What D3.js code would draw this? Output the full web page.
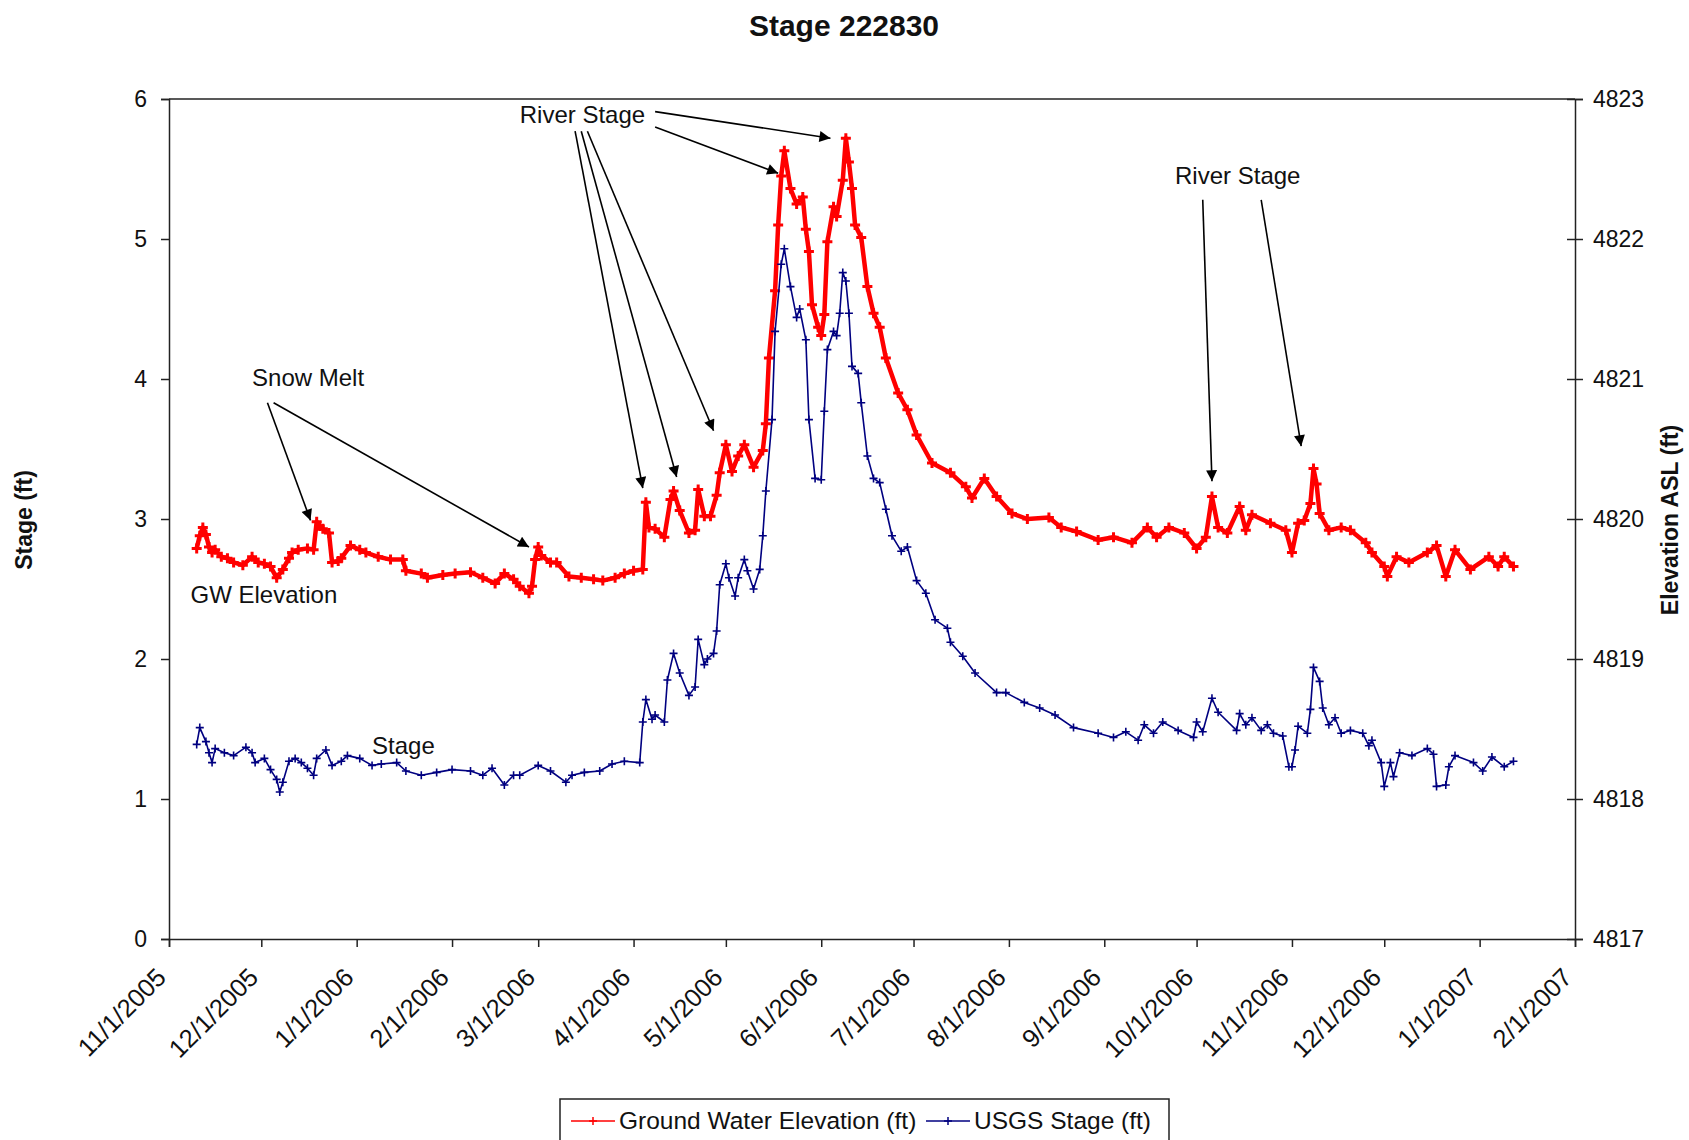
<!DOCTYPE html>
<meta charset="utf-8">
<script src="https://d3js.org/d3.v7.min.js"></script>
<style>
  body { margin: 0; background: #fff; }
  text { font-family: "Liberation Sans", Arial, sans-serif; fill: #111; }
</style>
<div id="chart"></div>
<script>

// ground water elevation (ft, left axis)
const gwData = [
  ["2005-11-10",2.79],["2005-11-11",2.88],["2005-11-12",2.94],["2005-11-13",2.89],["2005-11-14",2.80],
  ["2005-11-15",2.76],["2005-11-16",2.78],["2005-11-18",2.73],["2005-11-20",2.72],["2005-11-22",2.69],
  ["2005-11-25",2.67],["2005-11-28",2.73],["2005-11-30",2.69],["2005-12-02",2.68],["2005-12-04",2.66],
  ["2005-12-06",2.58],["2005-12-08",2.64],["2005-12-10",2.72],["2005-12-11",2.76],["2005-12-13",2.78],
  ["2005-12-16",2.79],["2005-12-18",2.78],["2005-12-19",2.98],["2005-12-20",2.95],["2005-12-21",2.93],
  ["2005-12-23",2.90],["2005-12-24",2.69],["2005-12-26",2.70],["2005-12-27",2.72],["2005-12-30",2.81],
  ["2006-01-02",2.78],["2006-01-04",2.76],["2006-01-08",2.73],["2006-01-12",2.71],["2006-01-16",2.71],
  ["2006-01-17",2.63],["2006-01-22",2.61],["2006-01-24",2.58],["2006-01-29",2.60],["2006-02-02",2.61],
  ["2006-02-07",2.62],["2006-02-11",2.58],["2006-02-15",2.54],["2006-02-18",2.61],["2006-02-21",2.57],
  ["2006-02-23",2.52],["2006-02-26",2.47],["2006-02-27",2.52],["2006-02-28",2.71],["2006-03-01",2.80],
  ["2006-03-02",2.74],["2006-03-05",2.69],["2006-03-07",2.69],["2006-03-11",2.59],["2006-03-15",2.58],
  ["2006-03-19",2.57],["2006-03-22",2.56],["2006-03-26",2.58],["2006-03-29",2.61],["2006-04-01",2.63],
  ["2006-04-04",2.64],["2006-04-05",3.12],["2006-04-06",2.94],["2006-04-08",2.93],["2006-04-11",2.87],
  ["2006-04-13",3.14],["2006-04-14",3.20],["2006-04-16",3.06],["2006-04-19",2.90],["2006-04-21",2.92],
  ["2006-04-22",3.21],["2006-04-24",3.02],["2006-04-26",3.02],["2006-04-28",3.17],["2006-04-29",3.33],
  ["2006-05-01",3.53],["2006-05-03",3.34],["2006-05-05",3.45],["2006-05-07",3.53],["2006-05-10",3.37],
  ["2006-05-13",3.49],["2006-05-14",3.68],["2006-05-15",4.15],["2006-05-17",4.63],["2006-05-18",5.10],
  ["2006-05-19",5.45],["2006-05-20",5.63],["2006-05-22",5.36],["2006-05-24",5.25],["2006-05-26",5.30],
  ["2006-05-27",5.07],["2006-05-28",4.91],["2006-05-29",4.53],["2006-05-31",4.37],["2006-06-01",4.31],
  ["2006-06-02",4.46],["2006-06-03",4.98],["2006-06-05",5.23],["2006-06-06",5.16],["2006-06-08",5.42],
  ["2006-06-09",5.72],["2006-06-10",5.55],["2006-06-11",5.36],["2006-06-12",5.10],["2006-06-14",5.01],
  ["2006-06-16",4.66],["2006-06-18",4.47],["2006-06-20",4.37],["2006-06-22",4.15],["2006-06-26",3.90],
  ["2006-06-29",3.78],["2006-07-02",3.60],["2006-07-07",3.40],["2006-07-13",3.33],["2006-07-18",3.23],
  ["2006-07-20",3.15],["2006-07-24",3.29],["2006-07-28",3.16],["2006-08-02",3.04],["2006-08-07",3.00],
  ["2006-08-14",3.01],["2006-08-18",2.94],["2006-08-23",2.91],["2006-08-30",2.85],["2006-09-04",2.87],
  ["2006-09-10",2.83],["2006-09-15",2.94],["2006-09-18",2.87],["2006-09-22",2.94],["2006-09-27",2.90],
  ["2006-10-01",2.79],["2006-10-04",2.87],["2006-10-06",3.16],["2006-10-08",2.94],["2006-10-11",2.90],
  ["2006-10-15",3.09],["2006-10-17",2.92],["2006-10-19",3.03],["2006-10-25",2.97],["2006-10-30",2.92],
  ["2006-11-01",2.76],["2006-11-03",2.97],["2006-11-05",2.99],["2006-11-07",3.11],["2006-11-08",3.36],
  ["2006-11-09",3.25],["2006-11-10",3.04],["2006-11-13",2.92],["2006-11-17",2.94],["2006-11-20",2.92],
  ["2006-11-25",2.83],["2006-11-27",2.76],["2006-12-01",2.66],["2006-12-02",2.59],["2006-12-05",2.73],
  ["2006-12-09",2.69],["2006-12-15",2.76],["2006-12-18",2.81],["2006-12-21",2.59],["2006-12-24",2.78],
  ["2006-12-29",2.64],["2007-01-04",2.73],["2007-01-07",2.66],["2007-01-09",2.73],["2007-01-12",2.66]
];

// USGS river stage (ft, left axis)
const stageData = [
  ["2005-11-10",1.39],["2005-11-11",1.51],["2005-11-13",1.41],["2005-11-14",1.33],["2005-11-15",1.26],
  ["2005-11-16",1.36],["2005-11-19",1.33],["2005-11-22",1.31],["2005-11-26",1.37],["2005-11-28",1.33],
  ["2005-11-29",1.26],["2005-12-02",1.29],["2005-12-04",1.21],["2005-12-06",1.14],["2005-12-07",1.05],
  ["2005-12-08",1.12],["2005-12-10",1.27],["2005-12-12",1.29],["2005-12-14",1.26],["2005-12-16",1.22],
  ["2005-12-18",1.17],["2005-12-19",1.29],["2005-12-22",1.35],["2005-12-24",1.24],["2005-12-27",1.27],
  ["2005-12-29",1.31],["2006-01-02",1.29],["2006-01-06",1.24],["2006-01-09",1.25],["2006-01-14",1.26],
  ["2006-01-17",1.20],["2006-01-22",1.17],["2006-01-27",1.19],["2006-02-01",1.21],["2006-02-07",1.20],
  ["2006-02-11",1.17],["2006-02-14",1.22],["2006-02-18",1.10],["2006-02-21",1.17],["2006-02-23",1.17],
  ["2006-03-01",1.24],["2006-03-05",1.20],["2006-03-10",1.12],["2006-03-12",1.17],["2006-03-16",1.19],
  ["2006-03-21",1.20],["2006-03-25",1.25],["2006-03-29",1.27],["2006-04-03",1.26],["2006-04-04",1.55],
  ["2006-04-05",1.71],["2006-04-07",1.57],["2006-04-08",1.60],["2006-04-11",1.55],["2006-04-12",1.85],
  ["2006-04-14",2.04],["2006-04-16",1.90],["2006-04-19",1.74],["2006-04-21",1.80],["2006-04-22",2.14],
  ["2006-04-24",1.96],["2006-04-25",2.00],["2006-04-27",2.04],["2006-04-28",2.20],["2006-04-29",2.53],
  ["2006-05-01",2.68],["2006-05-02",2.58],["2006-05-04",2.45],["2006-05-05",2.58],["2006-05-07",2.71],
  ["2006-05-08",2.63],["2006-05-10",2.50],["2006-05-12",2.64],["2006-05-13",2.88],["2006-05-14",3.20],
  ["2006-05-16",3.71],["2006-05-17",4.34],["2006-05-19",4.82],["2006-05-20",4.93],["2006-05-22",4.66],
  ["2006-05-24",4.44],["2006-05-25",4.50],["2006-05-27",4.28],["2006-05-28",3.71],["2006-05-30",3.29],
  ["2006-06-01",3.28],["2006-06-02",3.77],["2006-06-03",4.21],["2006-06-05",4.34],["2006-06-06",4.31],
  ["2006-06-07",4.47],["2006-06-08",4.76],["2006-06-09",4.70],["2006-06-10",4.47],["2006-06-11",4.09],
  ["2006-06-13",4.04],["2006-06-14",3.83],["2006-06-16",3.45],["2006-06-18",3.29],["2006-06-20",3.26],
  ["2006-06-22",3.07],["2006-06-24",2.88],["2006-06-27",2.77],["2006-06-29",2.80],["2006-07-02",2.56],
  ["2006-07-05",2.47],["2006-07-08",2.28],["2006-07-12",2.22],["2006-07-13",2.12],["2006-07-17",2.02],
  ["2006-07-21",1.90],["2006-07-28",1.76],["2006-07-31",1.76],["2006-08-06",1.69],["2006-08-11",1.65],
  ["2006-08-16",1.60],["2006-08-22",1.51],["2006-08-30",1.47],["2006-09-04",1.44],["2006-09-08",1.48],
  ["2006-09-12",1.42],["2006-09-14",1.53],["2006-09-17",1.47],["2006-09-20",1.55],["2006-09-25",1.49],
  ["2006-09-30",1.44],["2006-10-01",1.55],["2006-10-03",1.48],["2006-10-06",1.72],["2006-10-08",1.62],
  ["2006-10-14",1.49],["2006-10-15",1.61],["2006-10-17",1.53],["2006-10-19",1.58],["2006-10-22",1.49],
  ["2006-10-24",1.53],["2006-10-26",1.47],["2006-10-29",1.45],["2006-10-31",1.23],["2006-11-01",1.23],
  ["2006-11-02",1.35],["2006-11-03",1.52],["2006-11-06",1.47],["2006-11-07",1.64],["2006-11-08",1.94],
  ["2006-11-10",1.84],["2006-11-11",1.65],["2006-11-13",1.53],["2006-11-15",1.58],["2006-11-17",1.47],
  ["2006-11-20",1.49],["2006-11-24",1.47],["2006-11-26",1.38],["2006-11-27",1.42],["2006-11-30",1.26],
  ["2006-12-01",1.09],["2006-12-03",1.26],["2006-12-04",1.16],["2006-12-06",1.33],["2006-12-10",1.31],
  ["2006-12-15",1.36],["2006-12-17",1.32],["2006-12-18",1.09],["2006-12-21",1.10],["2006-12-22",1.23],
  ["2006-12-24",1.31],["2006-12-30",1.26],["2007-01-02",1.20],["2007-01-05",1.30],["2007-01-09",1.23],
  ["2007-01-12",1.27]
];

const leftTicks = [0, 1, 2, 3, 4, 5, 6];
const rightTicks = [4817, 4818, 4819, 4820, 4821, 4822, 4823];
const xStart = "2005-11-01", xEnd = "2007-02-01";

const seriesNames = ["Ground Water Elevation (ft)", "USGS Stage (ft)"];
const seriesColors = ["#ff0000", "#000080"];

// text notes: [label, date, value]
const labels = [
  ["Snow Melt", "2005-11-28", 3.95],
  ["River Stage", "2006-02-23", 5.83],
  ["River Stage", "2006-09-24", 5.39],
  ["GW Elevation", "2005-11-08", 2.4],
  ["Stage", "2006-01-06", 1.32]
];
// arrows: [startDate, startValue, tipDate, tipValue]
const arrows = [
  ["2005-12-03", 3.83, "2005-12-17", 2.99],
  ["2005-12-05", 3.83, "2006-02-26", 2.80],
  ["2006-03-13", 5.77, "2006-04-04", 3.22],
  ["2006-03-15", 5.77, "2006-04-15", 3.30],
  ["2006-03-17", 5.77, "2006-04-27", 3.63],
  ["2006-04-08", 5.91, "2006-06-04", 5.72],
  ["2006-04-08", 5.80, "2006-05-18", 5.47],
  ["2006-10-03", 5.28, "2006-10-06", 3.27],
  ["2006-10-22", 5.28, "2006-11-04", 3.52]
];

const W = 1689, H = 1140;
const margin = {top: 99, right: 114, bottom: 201, left: 169};
const width = W - margin.left - margin.right,
      height = H - margin.top - margin.bottom;
const parse = d3.utcParse("%Y-%m-%d");

const svg = d3.select("#chart").append("svg")
    .attr("width", W).attr("height", H);

svg.append("defs").append("marker")
    .attr("id", "arrowhead")
    .attr("viewBox", "0 0 10 10")
    .attr("refX", 10).attr("refY", 5)
    .attr("markerWidth", 15).attr("markerHeight", 11)
    .attr("markerUnits", "userSpaceOnUse")
    .attr("orient", "auto")
  .append("path").attr("d", "M0,0L10,5L0,10Z").attr("fill", "#000");

const g = svg.append("g").attr("transform", `translate(${margin.left},${margin.top})`);

const x = d3.scaleUtc().domain([parse(xStart), parse(xEnd)]).range([0, width]);
const y = d3.scaleLinear().domain([0, 6]).range([height, 0]);
const y2 = d3.scaleLinear().domain([4817, 4823]).range([height, 0]);

// title
svg.append("text")
    .attr("x", 844).attr("y", 36)
    .attr("text-anchor", "middle")
    .style("font-weight", "bold").style("font-size", "30px")
    .text("Stage 222830");

// top border
g.append("line").attr("x1", 0).attr("x2", width).attr("y1", 0).attr("y2", 0)
    .attr("stroke", "#222").attr("stroke-width", 1.5);

// axes
const xAxis = g.append("g")
    .attr("transform", `translate(0,${height})`)
    .call(d3.axisBottom(x).tickValues(d3.utcMonth.range(parse(xStart), d3.utcDay.offset(parse(xEnd), 1)))
      .tickSize(8).tickFormat(d3.utcFormat("%-m/%-d/%Y")));
xAxis.selectAll(".tick text")
    .attr("text-anchor", "end")
    .attr("dy", null).attr("y", null)
    .attr("transform", "translate(-2,40) rotate(-45)")
    .style("font-size", "25.5px");

const yAxis = g.append("g")
    .call(d3.axisLeft(y).tickValues(leftTicks).tickSize(8).tickPadding(14).tickFormat(d3.format("d")));
yAxis.selectAll(".tick text").style("font-size", "23px");

const yAxisR = g.append("g")
    .attr("transform", `translate(${width},0)`)
    .call(d3.axisRight(y2).tickValues(rightTicks).tickSize(8).tickPadding(10).tickFormat(d3.format("d")));
yAxisR.selectAll(".tick line").attr("x1", -8);
yAxisR.selectAll(".tick text").style("font-size", "23px");

g.selectAll(".domain").attr("stroke", "#222").attr("stroke-width", 1.5);
g.selectAll(".tick line").attr("stroke", "#222").attr("stroke-width", 1.5);

// axis titles
svg.append("text")
    .attr("transform", "translate(32,520) rotate(-90)")
    .attr("text-anchor", "middle")
    .style("font-weight", "bold").style("font-size", "23px")
    .text("Stage (ft)");
svg.append("text")
    .attr("transform", "translate(1678,520) rotate(-90)")
    .attr("text-anchor", "middle")
    .style("font-weight", "bold").style("font-size", "23px")
    .text("Elevation ASL (ft)");

// series
const line = d3.line()
    .x(d => x(parse(d[0])))
    .y(d => y(d[1]));
const plus = "M-4,0H4M0,-4V4";

const series = [gwData, stageData];
series.forEach((data, i) => {
  g.append("path")
      .datum(data)
      .attr("fill", "none")
      .attr("stroke", seriesColors[i])
      .attr("stroke-width", i === 0 ? 4.5 : 1.6)
      .attr("stroke-linejoin", "round")
      .attr("d", line);
  g.selectAll(".mk" + i)
    .data(data)
    .join("path")
      .attr("class", "mk" + i)
      .attr("transform", d => `translate(${x(parse(d[0]))},${y(d[1])})`)
      .attr("d", i === 0 ? "M-5,0H5M0,-5V5" : plus)
      .attr("stroke", seriesColors[i])
      .attr("stroke-width", i === 0 ? 3 : 1.6);
});

// annotations
g.selectAll(".arrow")
  .data(arrows)
  .join("line")
    .attr("class", "arrow")
    .attr("x1", d => x(parse(d[0]))).attr("y1", d => y(d[1]))
    .attr("x2", d => x(parse(d[2]))).attr("y2", d => y(d[3]))
    .attr("stroke", "#000").attr("stroke-width", 1.6)
    .attr("marker-end", "url(#arrowhead)");

g.selectAll(".note")
  .data(labels)
  .join("text")
    .attr("class", "note")
    .attr("x", d => x(parse(d[1])))
    .attr("y", d => y(d[2]))
    .style("font-size", "24px")
    .text(d => d[0]);

// legend
const leg = svg.append("g").attr("transform", "translate(560,1099)");
leg.append("rect")
    .attr("width", 609).attr("height", 50)
    .attr("fill", "#fff").attr("stroke", "#222").attr("stroke-width", 1.5);
const legX = [11, 366];
seriesNames.forEach((name, i) => {
  const it = leg.append("g").attr("transform", `translate(${legX[i]},22)`);
  it.append("line").attr("x1", 0).attr("x2", 44)
      .attr("stroke", seriesColors[i]).attr("stroke-width", 1.5);
  it.append("path").attr("d", plus).attr("transform", "translate(22,0)")
      .attr("stroke", seriesColors[i]).attr("stroke-width", 1.5);
  it.append("text").attr("x", 48).attr("y", 8)
      .style("font-size", "24.5px").text(name);
});

</script>
